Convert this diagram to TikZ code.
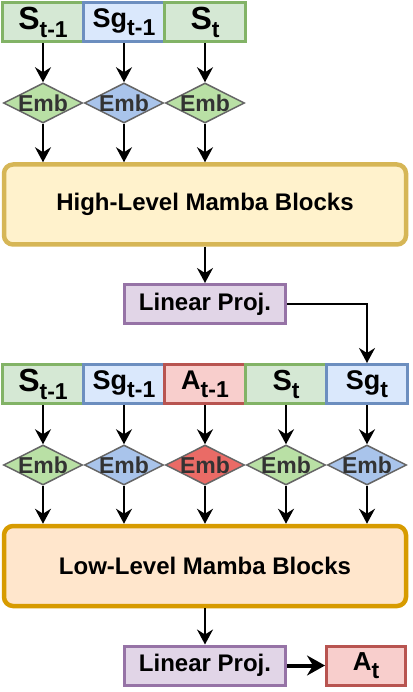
\documentclass[tikz,border=0pt]{standalone}
\usepackage{fontspec}
\setmainfont{Liberation Sans}
\usetikzlibrary{positioning, shapes.geometric, arrows.meta, calc}
\definecolor{stgreen}{HTML}{D5E8D4}
\definecolor{stgreenln}{HTML}{82B366}
\definecolor{sgblue}{HTML}{DAE8FC}
\definecolor{sgblueln}{HTML}{6C8EBF}
\definecolor{actred}{HTML}{F8CECC}
\definecolor{actredln}{HTML}{B85450}
\definecolor{projcol}{HTML}{E1D5E7}
\definecolor{projln}{HTML}{9673A6}
\definecolor{highcol}{HTML}{FFF2CC}
\definecolor{highln}{HTML}{D6B656}
\definecolor{lowcol}{HTML}{FFE6CC}
\definecolor{lowln}{HTML}{D79B00}
\definecolor{embgreen}{HTML}{B9E0A5}
\definecolor{embblue}{HTML}{A9C4EB}
\definecolor{embred}{HTML}{EA6B66}
\definecolor{embln}{HTML}{666666}
\definecolor{embtxt}{HTML}{333333}

\newcommand{\tok}[3][32]{{\fontsize{#1}{#1}\selectfont #2}\raisebox{-8pt}{\fontsize{23}{23}\selectfont #3}}

\tikzset{
  token/.style={draw=#1ln, fill=#1, line width=3pt, minimum width=81pt,
    minimum height=39pt, inner sep=0pt, font=\bfseries},
  embtext/.style={text=embtxt, inner sep=0pt, font=\fontsize{23}{23}\selectfont\bfseries},
  embnode/.style={diamond, draw=embln, line width=1.5pt, fill=#1, minimum width=79pt,
    minimum height=40pt, inner sep=0pt, label={[embtext]center:Emb}},
  block/.style={draw=#1ln, fill=#1col, rounded corners=9pt, line width=4.5pt,
    minimum width=402pt, minimum height=80pt, font=\fontsize{24}{24}\selectfont\bfseries},
  proj/.style={draw=projln, fill=projcol, line width=3pt, minimum width=161pt,
    minimum height=39pt, font=\fontsize{24}{24}\selectfont\bfseries},
  flow/.style={-{Stealth[length=15pt,width=16pt,inset=5pt]}, line width=2pt}
}

\begin{document}
\begin{tikzpicture}[x=1pt, y=-1pt]
  \useasboundingbox (0,0) rectangle (412,692);

  % high-level branch
  \node[token=stgreen] (hin1) at (43,22.5) {\tok{S}{t-1}};
  \node[token=sgblue] (hin2) at (124,22.5) {\tok[27]{Sg}{t-1}};
  \node[token=stgreen] (hin3) at (205,22.5) {\tok{S}{t}};

  \node[embnode=embgreen] (hemb1) at (43,103) {};
  \node[embnode=embblue] (hemb2) at (124,103) {};
  \node[embnode=embgreen] (hemb3) at (205,103) {};

  \node[block=high] (high) at (205,204.5) {High-Level Mamba Blocks};
  \node[proj] (lp1) at (205,304) {Linear Proj.};

  \foreach \i in {1,2,3} {
    \draw[flow] (hin\i) -- (hemb\i);
    \draw[flow] (hemb\i) -- (hemb\i |- high.north);
  }
  \draw[flow] (high) -- (lp1);

  % low-level branch
  \node[token=stgreen] (lin1) at (43,384) {\tok{S}{t-1}};
  \node[token=sgblue] (lin2) at (124,384) {\tok[27]{Sg}{t-1}};
  \node[token=actred] (lin3) at (205,384) {\tok[27]{A}{t-1}};
  \node[token=stgreen] (lin4) at (286,384) {\tok[29]{S}{t}};
  \node[token=sgblue] (lin5) at (367,384) {\tok[27]{Sg}{t}};

  \node[embnode=embgreen] (lemb1) at (43,465) {};
  \node[embnode=embblue] (lemb2) at (124,465) {};
  \node[embnode=embred] (lemb3) at (205,465) {};
  \node[embnode=embgreen] (lemb4) at (286,465) {};
  \node[embnode=embblue] (lemb5) at (367,465) {};

  \node[block=low] (low) at (205,566) {Low-Level Mamba Blocks};
  \node[proj] (lp2) at (205,665.5) {Linear Proj.};
  \node[token=actred, minimum width=79pt] (aout) at (366,665.5) {\tok[26]{A}{t}};

  \draw[flow] (lp1) -| (lin5);
  \foreach \i in {1,...,5} {
    \draw[flow] (lin\i) -- (lemb\i);
    \draw[flow] (lemb\i) -- (lemb\i |- low.north);
  }
  \draw[flow] (low) -- (lp2);
  \draw[-{Stealth[length=18pt,width=20pt,inset=6pt]}, line width=4pt] (lp2) -- (aout);
\end{tikzpicture}
\end{document}
